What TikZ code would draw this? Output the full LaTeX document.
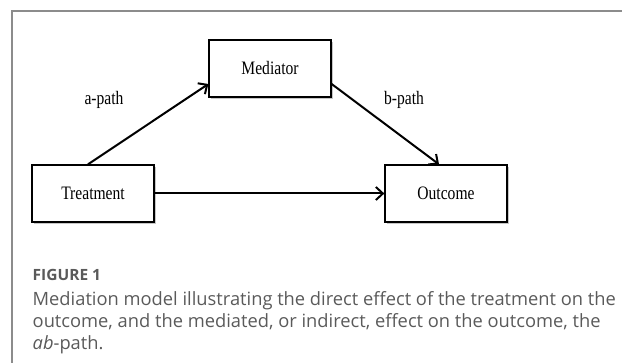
\documentclass[tikz,border=0pt]{standalone}
\usepackage{fontspec}
\usepackage{xcolor}
\usepackage{tikz}
\usetikzlibrary{arrows.meta,shadows}
\newfontfamily\captionfont{Open Sans}
\newfontfamily\boxfont[FakeStretch=0.82]{Liberation Serif}
\definecolor{captiongray}{HTML}{5A5A5A}
\definecolor{framegray}{HTML}{8C8C8C}
\tikzset{>={Straight Barb[length=7pt,width=13pt]}}
\tikzset{
  varbox/.style={draw,line width=1.3pt,fill=white,minimum width=122pt,minimum height=57pt,
    drop shadow={shadow xshift=1.5pt,shadow yshift=-2pt,opacity=0.45},
    font=\boxfont\fontsize{19}{21}\selectfont},
  pathlabel/.style={font=\boxfont\fontsize{19}{21}\selectfont},
  effect/.style={->,line width=2pt}
}

\begin{document}
\begin{tikzpicture}[x=1pt,y=1pt]
  \useasboundingbox (0,0) rectangle (622,-363);
  % Draw frame lines
  \draw[framegray,line width=1.2pt] (12,-363) -- (12,-11) -- (622,-11);

  % Draw the three variable boxes
  \node[varbox] (med) at (270,-68.5) {Mediator};
  \node[varbox] (treat) at (93,-193.5) {Treatment};
  \node[varbox] (out) at (446,-193.5) {Outcome};

  % Add path labels
  \node[pathlabel] (alabel) at (104,-100) {a-path};
  \node[pathlabel] (blabel) at (404,-100) {b-path};

  % Draw effects
  \draw[effect] ([xshift=-5pt]treat.north) -- ([yshift=-15.5pt]med.west);
  \draw[effect] ([yshift=-15.5pt]med.east) -- ([xshift=-7pt]out.north);
  \draw[effect] (treat.east) -- (out.west);

  % Add caption
  \node[anchor=base west,inner sep=0pt,captiongray,font=\captionfont\bfseries\fontsize{15.5}{18}\selectfont] (fig) at (32.5,-281) {FIGURE 1};
  \node[anchor=north west,inner sep=0pt,align=left,captiongray,font=\captionfont\fontsize{18.3}{22}\selectfont] (cap) at (32.5,-291.5)
    {Mediation model illustrating the direct effect of the treatment on the\\
     outcome, and the mediated, or indirect, effect on the outcome, the\\
     \textit{ab}-path.};
\end{tikzpicture}
\end{document}
